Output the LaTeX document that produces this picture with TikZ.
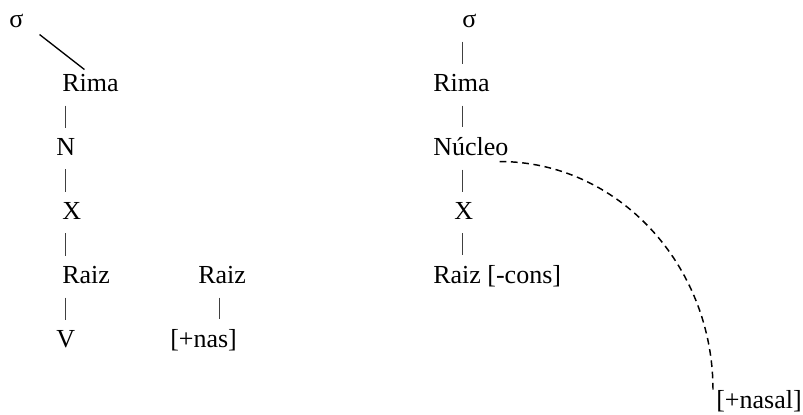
\documentclass[tikz,border=0pt]{standalone}
\usepackage{fontspec}
\setmainfont{Liberation Serif}
\usepackage{tikz}
\usetikzlibrary{positioning}

\begin{document}
\begin{tikzpicture}[
  x=0.75pt, y=-0.75pt,
  seg/.style={inner sep=0pt, anchor=base west, font=\fontsize{19.5}{22}\selectfont},
  bar/.style={draw=black!75, line width=0.75pt, shorten <=10.5pt, shorten >=7.5pt},
  link/.style={line width=1pt},
  assoc/.style={line width=1.1pt, dash pattern=on 5pt off 3.5pt}
]
  \useasboundingbox (0,0) rectangle (803,414);

  % Left tree
  \node[seg] (sigL)  at (9,27)   {σ};
  \node[seg] (rimaL) at (62,91)  {Rima};
  \node[seg] (nL)    at (56,155) {N};
  \node[seg] (xL)    at (62,219) {X};
  \node[seg] (raizL) at (62,283) {Raiz};
  \node[seg] (vL)    at (56,347) {V};

  % Floating root
  \node[seg] (raizF) at (198,283) {Raiz};
  \node[seg] (nasF)  at (170,347) {[+nas]};

  % Right tree
  \node[seg] (sigR)   at (462,27)  {σ};
  \node[seg] (rimaR)  at (433,91)  {Rima};
  \node[seg] (nucR)   at (433,155) {Núcleo};
  \node[seg] (xR)     at (454,219) {X};
  \node[seg] (raizR)  at (433,283) {Raiz [-cons]};
  \node[seg] (nasalR) at (716,408) {[+nasal]};

  % Columns of the bars
  \coordinate (colL) at (65,0);
  \coordinate (colF) at (219,0);
  \coordinate (colR) at (462,0);

  % Left links
  \draw[link] ([shift={(16,7)}]sigL.south east) -- ([shift={(-6,-4)}]rimaL.north);
  \draw[bar] (rimaL.south -| colL) -- (nL.north -| colL);
  \draw[bar] (nL.south -| colL)    -- (xL.north -| colL);
  \draw[bar] (xL.south -| colL)    -- (raizL.north -| colL);
  \draw[bar] (raizL.south -| colL) -- (vL.north -| colL);
  \draw[bar] (raizF.south -| colF) -- (nasF.north -| colF);

  % Right links
  \draw[bar] (sigR.south -| colR)  -- (rimaR.north -| colR);
  \draw[bar] (rimaR.south -| colR) -- (nucR.north -| colR);
  \draw[bar] (nucR.south -| colR)  -- (xR.north -| colR);
  \draw[bar] (xR.south -| colR)    -- (raizR.north -| colR);

  % Spreading of [+nasal]
  \draw[assoc] ([shift={(-9,6)}]nucR.south east) .. controls +(118,0) and +(0,-125) .. ([shift={(-3,0)}]nasalR.north west);
\end{tikzpicture}
\end{document}
